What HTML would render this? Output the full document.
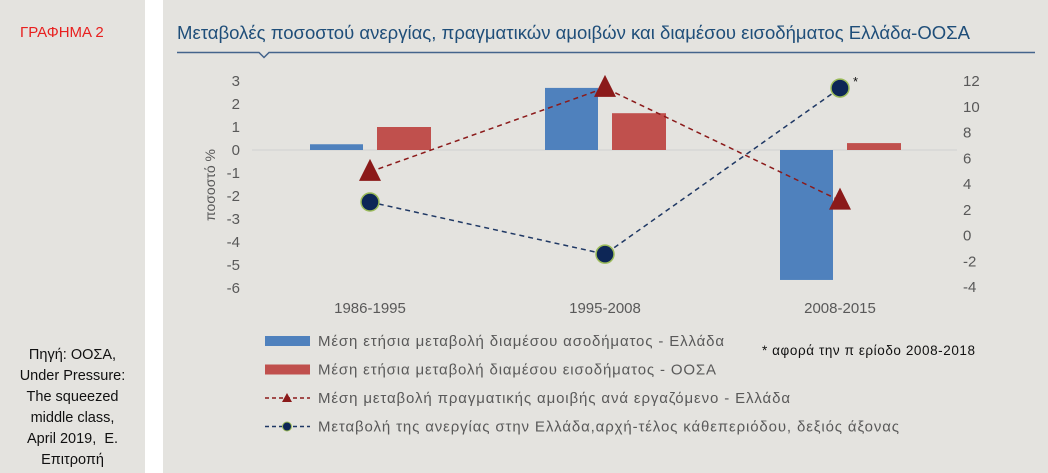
<!DOCTYPE html>
<html><head><meta charset="utf-8"><style>
body{margin:0;width:1048px;height:473px;background:#fff;font-family:"Liberation Sans",sans-serif;overflow:hidden;position:relative}
.lp{position:absolute;left:0;top:0;width:145px;height:473px;background:#e4e3df}
.rp{position:absolute;left:163px;top:0;width:885px;height:473px;background:#e4e3df}
</style></head><body>
<div class="lp">
<div style="position:absolute;left:20px;top:24px;color:#e8201f;font-size:15px">ΓΡΑΦΗΜΑ 2</div>
<div style="position:absolute;left:0;top:345px;width:145px;text-align:center;font-size:14.5px;line-height:21px;color:#111">Πηγή: ΟΟΣΑ,<br>Under Pressure:<br>The squeezed<br>middle class,<br>April 2019,&nbsp; Ε.<br>Επιτροπή</div>
</div>
<div class="rp"></div>
<svg width="1048" height="473" style="position:absolute;left:0;top:0">
<text x="177" y="39" font-size="18" textLength="793" lengthAdjust="spacingAndGlyphs" fill="#1f4e79" font-family="Liberation Sans">Μεταβολές ποσοστού ανεργίας, πραγματικών αμοιβών και διαμέσου εισοδήματος Ελλάδα-ΟΟΣΑ</text>
<path d="M177 52.5H259l5 5 5-5H1035" stroke="#44648c" stroke-width="1.5" fill="none"/>
<g id="g"></g>
</svg>
<script>
const categories=["1986-1995","1995-2008","2008-2015"];
const incomeGreece=[0.25,2.7,-5.65];
const incomeOECD=[1.0,1.6,0.3];
const wageGreece=[-0.95,2.7,-2.2];
const unemploymentGreece=[2.6,-1.45,11.45];
const leftTicks=[3,2,1,0,-1,-2,-3,-4,-5,-6];
const rightTicks=[12,10,8,6,4,2,0,-2,-4];
const NS="http://www.w3.org/2000/svg";
const g=document.getElementById('g');
const yL=v=>150-v*23;
const yR=v=>235.5-v*12.875;
const xC=i=>370+i*235;
function mk(t,a,name){const e=document.createElementNS(NS,t);for(const k in a)e.setAttribute(k,a[k]);


g.appendChild(e);return e;}
function txt(x,y,s,name,anchor,size,fill){const e=mk('text',{x:x,y:y,'font-size':size||14,fill:fill||'#595959','text-anchor':anchor||'middle','font-family':'Liberation Sans'},name);e.textContent=s;return e;}
leftTicks.forEach(v=>txt(240,yL(v)+5,v,'left-tick-label','end',15));
rightTicks.forEach(v=>txt(963,yR(v)+5,v,'right-tick-label','start',15));
const yt=txt(215,185,'ποσοστό %','y-axis-title','middle',14);yt.setAttribute('transform','rotate(-90 215 185)');
mk('line',{x1:252,x2:957,y1:yL(0),y2:yL(0),stroke:'#d0d0d0','stroke-width':1},'zero-line');
categories.forEach((c,i)=>{
 const b=incomeGreece[i];mk('rect',{x:xC(i)-60,y:Math.min(yL(b),yL(0)),width:53,height:Math.abs(yL(b)-yL(0)),fill:'#4f81bd'},'bar-income-greece');
 const r=incomeOECD[i];mk('rect',{x:xC(i)+7,y:Math.min(yL(r),yL(0)),width:54,height:Math.abs(yL(r)-yL(0)),fill:'#c0504d'},'bar-income-oecd');
 txt(xC(i),313,c,'x-tick-label','middle',15);
});
mk('polyline',{points:wageGreece.map((v,i)=>xC(i)+','+yL(v)).join(' '),fill:'none',stroke:'#8b1a1a','stroke-width':1.5,'stroke-dasharray':'5,4'},'line-wage-greece');
mk('polyline',{points:unemploymentGreece.map((v,i)=>xC(i)+','+yR(v)).join(' '),fill:'none',stroke:'#1f3864','stroke-width':1.5,'stroke-dasharray':'5,4'},'line-unemployment-greece');
wageGreece.forEach((v,i)=>{const x=xC(i),y=yL(v);mk('polygon',{points:`${x},${y-13} ${x-11},${y+9} ${x+11},${y+9}`,fill:'#8b1a1a'},'marker-wage');});
unemploymentGreece.forEach((v,i)=>mk('circle',{cx:xC(i),cy:yR(v),r:9,fill:'#0d2656',stroke:'#9bbb59','stroke-width':1.5},'marker-unemployment'));
txt(853,86,'*','asterisk-note','start',13,'#111');
const fn=txt(762,355,'* αφορά την π ερίοδο 2008-2018','footnote','start',13.5,'#111');
fn.setAttribute('textLength','213');
const leg=[['Μέση  ετήσια μεταβολή διαμέσου ασοδήματος - Ελλάδα','#4f81bd','bar',406],['Μέση  ετήσια μεταβολή διαμέσου εισοδήματος - ΟΟΣΑ','#c0504d','bar',398],['Μέση  μεταβολή πραγματικής αμοιβής ανά εργαζόμενο  - Ελλάδα','#8b1a1a','tri',472],['Μεταβολή  της ανεργίας  στην Ελλάδα,αρχή-τέλος  κάθεπεριόδου, δεξιός άξονας','#1f3864','circ',581]];
leg.forEach((l,i)=>{const y=341+i*28.5;
 if(l[2]=='bar')mk('rect',{x:265,y:y-5,width:45,height:10,fill:l[1]},'legend-swatch');
 else{mk('line',{x1:265,x2:310,y1:y,y2:y,stroke:l[1],'stroke-width':1.5,'stroke-dasharray':'4,3'},'legend-swatch');
  if(l[2]=='tri')mk('polygon',{points:`287,${y-5} 282,${y+4} 292,${y+4}`,fill:l[1]},'legend-marker');
  else mk('circle',{cx:287,cy:y,r:4.5,fill:'#0d2656',stroke:'#9bbb59'},'legend-marker');}
 const t=txt(318,y+5,l[0],'legend-entry','start',15);
 t.setAttribute('textLength',l[3]);
});
</script>
</body></html>
